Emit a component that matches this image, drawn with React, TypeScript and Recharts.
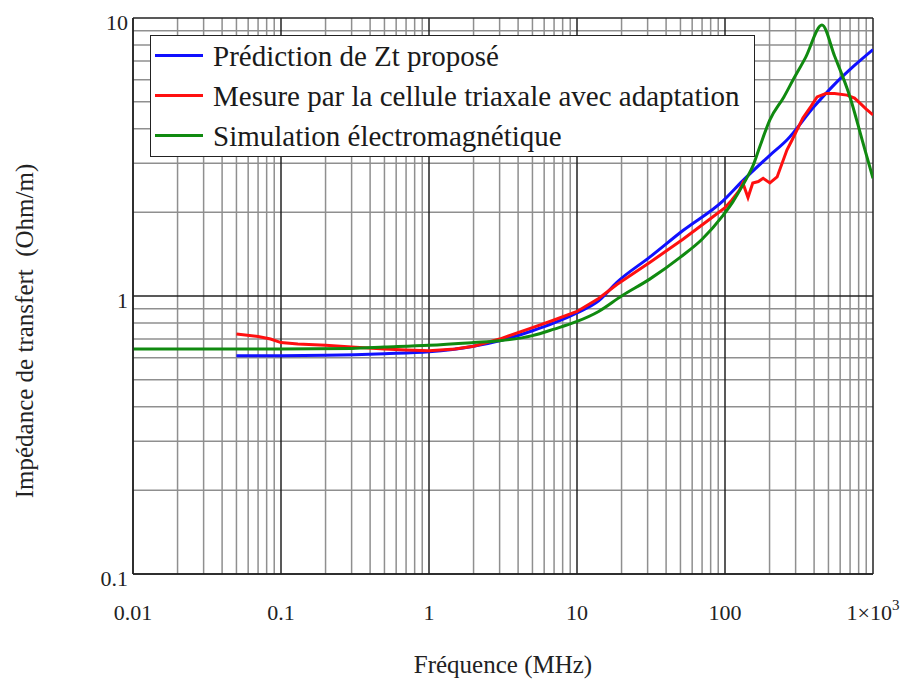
import { LineChart, Line, XAxis, YAxis, ReferenceLine } from 'recharts';

// Prédiction de Zt proposé
const predFreq = [0.05, 0.1, 0.2, 0.5, 1, 2, 3, 5, 7, 10, 14, 18.6, 31, 52, 97, 132, 200, 262, 400, 537, 750, 1000];
const predZ = [0.61, 0.61, 0.612, 0.62, 0.63, 0.66, 0.69, 0.75, 0.8, 0.87, 0.96, 1.12, 1.38, 1.72, 2.2, 2.6, 3.2, 3.64, 4.8, 5.7, 6.75, 7.7];

// Mesure par la cellule triaxale avec adaptation
const measFreq = [0.05, 0.07, 0.085, 0.1, 0.13, 0.2, 0.3, 0.5, 0.7, 1, 1.5, 2, 3, 5, 7, 10, 14, 18.6, 31, 52, 80, 100, 111, 125, 132, 143, 154, 168, 181, 201, 225, 262, 284, 336, 380, 419, 480, 550, 667, 750, 816, 900, 1000];
const measZ = [0.73, 0.715, 0.7, 0.68, 0.672, 0.665, 0.655, 0.645, 0.64, 0.635, 0.645, 0.66, 0.7, 0.77, 0.82, 0.88, 0.98, 1.1, 1.32, 1.6, 1.9, 2.08, 2.21, 2.4, 2.55, 2.26, 2.55, 2.58, 2.65, 2.55, 2.68, 3.35, 3.64, 4.37, 4.8, 5.2, 5.35, 5.35, 5.28, 5.15, 4.94, 4.7, 4.48];

// Simulation électromagnétique
const simFreq = [0.01, 0.1, 0.3, 0.5, 1, 2, 3, 5, 7, 10, 14, 20, 31, 50, 70, 97, 113, 126, 140, 155, 172, 201, 250, 288, 350, 452, 550, 699, 850, 1000];
const simZ = [0.645, 0.645, 0.648, 0.655, 0.665, 0.68, 0.69, 0.72, 0.76, 0.81, 0.88, 1.0, 1.15, 1.38, 1.6, 1.95, 2.18, 2.4, 2.65, 2.95, 3.45, 4.3, 5.2, 5.98, 7.2, 9.44, 7.3, 5.2, 3.6, 2.65];

const xDecades = [0.01, 0.1, 1, 10, 100, 1000];
const yDecades = [0.1, 1, 10];
const xTickLabels = ['0.01', '0.1', '1', '10', '100', '1×10'];
const yTickLabels = ['0.1', '1', '10'];
const minorSteps = [2, 3, 4, 5, 6, 7, 8, 9];

const legendNames = ['Prédiction de Zt proposé', 'Mesure par la cellule triaxale avec adaptation', 'Simulation électromagnétique'];
const colors = ['#1010ff', '#ff1010', '#108a10'];

const toPoints = (fs: number[], zs: number[]) => fs.map((f, i) => ({ f, z: zs[i] }));
const predData = toPoints(predFreq, predZ);
const measData = toPoints(measFreq, measZ);
const simData = toPoints(simFreq, simZ);

const xMinor = xDecades.slice(0, -1).flatMap((d) => minorSteps.map((k) => +(d * k).toPrecision(3)));
const yMinor = yDecades.slice(0, -1).flatMap((d) => minorSteps.map((k) => +(d * k).toPrecision(3)));

const FONT = '"Liberation Serif", "Times New Roman", serif';
const serif = { fontFamily: FONT };

const XTick = (props: any) => {
  const { x, y, payload } = props;
  const i = xDecades.indexOf(payload.value);
  return (
    <text x={x} y={y + 46} textAnchor="middle" style={serif} fontSize={22} fill="#222">
      {xTickLabels[i]}
      {payload.value === 1000 && (
        <tspan dy={-10} fontSize={15}>3</tspan>
      )}
    </text>
  );
};

const YTick = (props: any) => {
  const { x, y, payload } = props;
  const i = yDecades.indexOf(payload.value);
  return (
    <text x={x - 5} y={y + 12} textAnchor="end" style={serif} fontSize={22} fill="#222">
      {yTickLabels[i]}
    </text>
  );
};

const YTitle = (props: any) => {
  const { viewBox } = props;
  const cx = 24;
  const cy = viewBox.y + viewBox.height / 2 + 35;
  return (
    <text
      x={cx}
      y={cy}
      transform={`rotate(-90 ${cx} ${cy})`}
      textAnchor="middle"
      dominantBaseline="central"
      style={serif}
      fontSize={25}
      fill="#222"
    >
      {'Impédance de transfert\u00a0\u00a0(Ohm/m)'}
    </text>
  );
};

const XTitle = (props: any) => {
  const { viewBox } = props;
  return (
    <text x={viewBox.x + viewBox.width / 2} y={673} textAnchor="middle" style={serif} fontSize={25} fill="#222">
      Fréquence (MHz)
    </text>
  );
};

const ChartLegend = () => (
  <div
    style={{
      position: 'absolute',
      left: 150,
      top: 35,
      width: 605,
      height: 122,
      boxSizing: 'border-box',
      border: '1.5px solid #222',
      background: '#fff',
      fontFamily: FONT,
      fontSize: 29,
      color: '#1a1a1a',
    }}
  >
    {legendNames.map((name, i) => (
      <div key={name} style={{ position: 'absolute', left: 0, top: 3 + i * 40, height: 40, width: '100%' }}>
        <div style={{ position: 'absolute', left: 4, top: 15, width: 48, height: 3, background: colors[i] }} />
        <div style={{ position: 'absolute', left: 62, top: 0, lineHeight: '34px', whiteSpace: 'nowrap' }}>{name}</div>
      </div>
    ))}
  </div>
);

export default function App() {
  return (
    <div style={{ position: 'absolute', left: 0, top: 0, width: 908, height: 691, background: '#fff' }}>
      <LineChart width={908} height={691} margin={{ top: 18, right: 35, left: 0, bottom: 0 }}>
        <XAxis
          type="number"
          dataKey="f"
          scale="log"
          domain={[0.01, 1000]}
          ticks={xDecades}
          allowDataOverflow
          tick={<XTick />}
          tickLine={false}
          tickSize={0}
          tickMargin={0}
          height={117}
          axisLine={{ stroke: '#222', strokeWidth: 1.5 }}
          label={<XTitle />}
        />
        <YAxis
          type="number"
          dataKey="z"
          scale="log"
          domain={[0.1, 10]}
          ticks={yDecades}
          allowDataOverflow
          tick={<YTick />}
          tickLine={false}
          tickSize={0}
          tickMargin={0}
          width={133}
          axisLine={{ stroke: '#222', strokeWidth: 1.5 }}
          label={<YTitle />}
        />
        {xMinor.map((v) => (
          <ReferenceLine key={'xm' + v} x={v} stroke="#8f8f8f" strokeWidth={1.5} />
        ))}
        {yMinor.map((v) => (
          <ReferenceLine key={'ym' + v} y={v} stroke="#8f8f8f" strokeWidth={1.5} />
        ))}
        {xDecades.map((v) => (
          <ReferenceLine key={'xM' + v} x={v} stroke="#222" strokeWidth={1.5} />
        ))}
        {yDecades.map((v) => (
          <ReferenceLine key={'yM' + v} y={v} stroke="#222" strokeWidth={1.5} />
        ))}
        <Line data={predData} dataKey="z" type="monotone" stroke={colors[0]} strokeWidth={3} dot={false} isAnimationActive={false} />
        <Line data={measData} dataKey="z" type="linear" stroke={colors[1]} strokeWidth={3} dot={false} isAnimationActive={false} />
        <Line data={simData} dataKey="z" type="monotone" stroke={colors[2]} strokeWidth={3} dot={false} isAnimationActive={false} />
      </LineChart>
      <ChartLegend />
    </div>
  );
}
